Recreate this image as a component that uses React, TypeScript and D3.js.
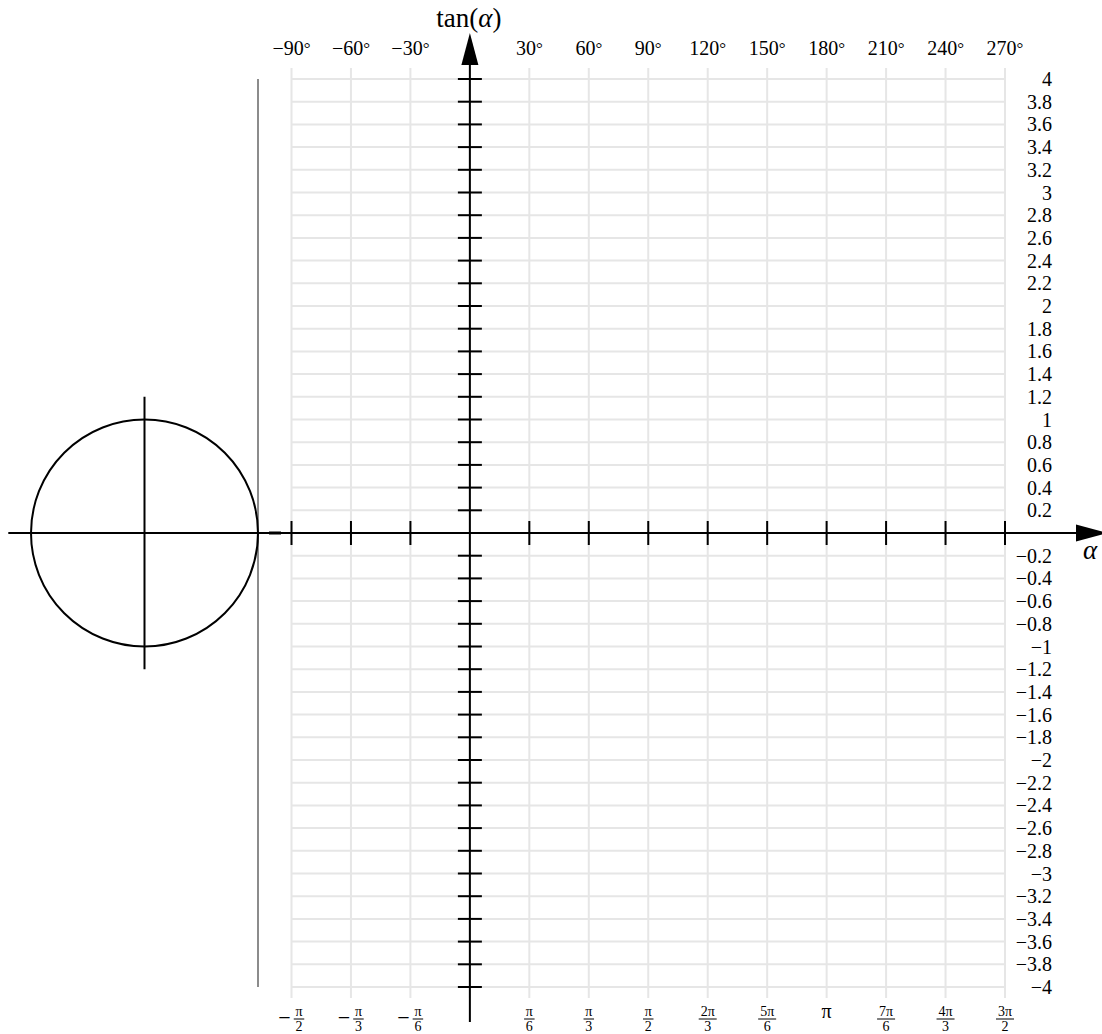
import * as d3 from 'd3'

// x axis: angle in degrees, y axis: tan value
const degTicks = [-90, -60, -30, 30, 60, 90, 120, 150, 180, 210, 240, 270]
const radNum = ['π', 'π', 'π', 'π', 'π', 'π', '2π', '5π', 'π', '7π', '4π', '3π']
const radDen = ['2', '3', '6', '6', '3', '2', '3', '6', '', '6', '3', '2']
const radNeg = [true, true, true, false, false, false, false, false, false, false, false, false]
const yTicks = d3.range(-20, 21).filter(i => i !== 0).map(i => i / 5)
const gridDeg = [-90, -60, -30, 0, 30, 60, 90, 120, 150, 180, 210, 240, 270]

const W = 1102
const H = 1034
const font = '"Liberation Serif", "DejaVu Serif", serif'

const fmt = (v: number) => (v < 0 ? '\u2212' : '') + d3.format('~g')(Math.abs(v))

export default function App() {
  const x = d3.scaleLinear().domain([-90, 270]).range([291.5, 1005])
  const y = d3.scaleLinear().domain([-4, 4]).range([987, 79])
  const unit = y(0) - y(1)
  const x0 = x(0)
  const y0 = y(0)
  const tanX = 258 // tangent line of the unit circle
  const cx = tanX - unit

  return (
    <svg width={W} height={H} style={{ position: 'absolute', left: 0, top: 0, background: '#fff' }}
      fontFamily={font}>
      {/* grid */}
      <g stroke="#e6e6e6" strokeWidth={2}>
        {gridDeg.map(d => (
          <line key={'gx' + d} x1={x(d)} x2={x(d)} y1={y(4) - 11} y2={y(-4) + 11} />
        ))}
        {yTicks.map(v => (
          <line key={'gy' + v} x1={x(-90)} x2={x(270)} y1={y(v)} y2={y(v)} />
        ))}
      </g>

      {/* tangent line x = 1 */}
      <line x1={tanX} x2={tanX} y1={y(4)} y2={y(-4)} stroke="#8c8c8c" strokeWidth={2} />

      {/* unit circle */}
      <circle cx={cx} cy={y0} r={unit} fill="none" stroke="#000" strokeWidth={2} />
      <line x1={cx} x2={cx} y1={y0 - 1.2 * unit} y2={y0 + 1.2 * unit} stroke="#000" strokeWidth={2} />

      {/* x axis */}
      <line x1={cx - 1.2 * unit} x2={1078} y1={y0} y2={y0} stroke="#000" strokeWidth={2} />
      <line x1={269} x2={281} y1={y0} y2={y0} stroke="#000" strokeWidth={3} />
      <path d={`M1076,${y0 - 8.5}L1108,${y0}L1076,${y0 + 8.5}Z`} fill="#000" />
      {degTicks.map(d => (
        <line key={'tx' + d} x1={x(d)} x2={x(d)} y1={y0 - 12} y2={y0 + 12} stroke="#000" strokeWidth={2} />
      ))}

      {/* y axis */}
      <line x1={x0} x2={x0} y1={63} y2={1022} stroke="#000" strokeWidth={2} />
      <path d={`M${x0 - 8.5},65L${x0},33L${x0 + 8.5},65Z`} fill="#000" />
      {yTicks.map(v => (
        <line key={'ty' + v} x1={x0 - 12} x2={x0 + 12} y1={y(v)} y2={y(v)} stroke="#000" strokeWidth={2} />
      ))}

      {/* degree labels */}
      {degTicks.map(d => (
        <text key={'ld' + d} x={x(d)} y={55} fontSize={20} textAnchor="middle">
          {fmt(d)}<tspan fontSize={17} dy={-1}>°</tspan>
        </text>
      ))}

      {/* y labels */}
      {yTicks.map(v => (
        <text key={'ly' + v} x={1052} y={y(v) + 7} fontSize={20} textAnchor="end">
          {fmt(v)}
        </text>
      ))}

      {/* radian labels */}
      {degTicks.map((d, i) => {
        const tx = x(d)
        if (!radDen[i]) {
          return (
            <text key={'lr' + d} x={tx} y={1018} fontSize={20} textAnchor="middle">{radNum[i]}</text>
          )
        }
        const fx = radNeg[i] ? tx + 7.5 : tx
        const bw = Math.max(radNum[i].length, radDen[i].length) * 7.5 + 3
        return (
          <g key={'lr' + d}>
            {radNeg[i] && (
              <text x={tx - 7} y={1025} fontSize={22} textAnchor="middle">{'\u2212'}</text>
            )}
            <text x={fx} y={1016} fontSize={14} textAnchor="middle">{radNum[i]}</text>
            <line x1={fx - bw / 2} x2={fx + bw / 2} y1={1019} y2={1019} stroke="#000" strokeWidth={1} />
            <text x={fx} y={1031} fontSize={14} textAnchor="middle">{radDen[i]}</text>
          </g>
        )
      })}

      {/* axis titles */}
      <text x={x0 - 1} y={27} fontSize={27} textAnchor="middle">
        tan(<tspan fontStyle="italic">α</tspan>)
      </text>
      <text x={1090} y={559} fontSize={27} textAnchor="middle" fontStyle="italic">α</text>
    </svg>
  )
}
